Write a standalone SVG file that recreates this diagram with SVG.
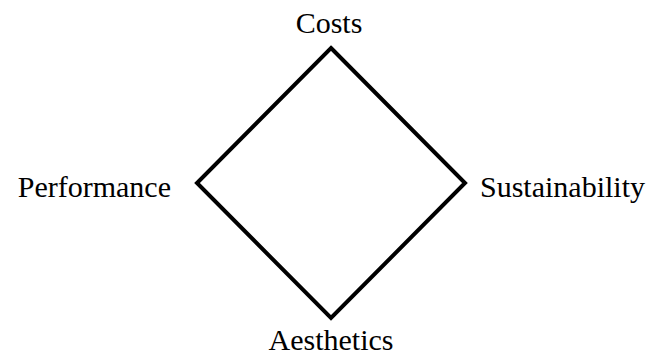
<svg xmlns="http://www.w3.org/2000/svg" width="651" height="354" viewBox="0 0 651 354">
<style>
.lbl{font-family:"Liberation Serif","Times New Roman",serif;font-size:30px;fill:#000}
.edge{fill:none;stroke:#000;stroke-width:4;stroke-linejoin:miter}
</style>
<rect width="651" height="354" fill="#fff"/>
<g id="connectors">
<polygon class="edge" points="331,48 465,183 331,318 197,183"/>
</g>
<g id="costs"><text class="lbl" x="329" y="33" text-anchor="middle">Costs</text></g>
<g id="performance"><text class="lbl" x="171" y="197" text-anchor="end">Performance</text></g>
<g id="sustainability"><text class="lbl" x="480" y="197">Sustainability</text></g>
<g id="aesthetics"><text class="lbl" x="331" y="350" text-anchor="middle">Aesthetics</text></g>
</svg>
